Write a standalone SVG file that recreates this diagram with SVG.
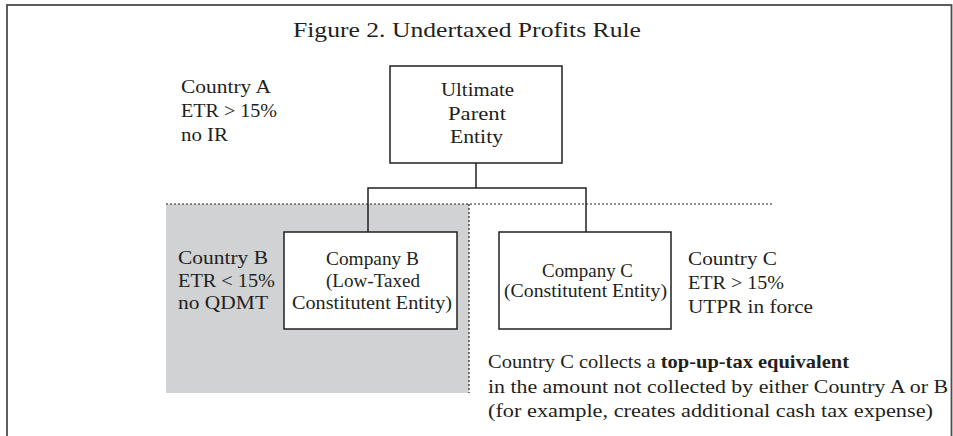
<svg xmlns="http://www.w3.org/2000/svg" width="953" height="436" viewBox="0 0 953 436">
<style>
text{font-family:"Liberation Serif","Times New Roman",serif;fill:#231f20;font-size:19px}
.t{font-size:22px}
.c{text-anchor:middle}
.box{fill:#fff;stroke:#231f20;stroke-width:1.5}
.ln{fill:none;stroke:#231f20;stroke-width:1.5}
.dot{fill:none;stroke:#231f20;stroke-width:1.2;stroke-dasharray:2 2}
</style>
<rect width="953" height="436" fill="#fff"/>
<rect x="7" y="5" width="944.5" height="440" fill="none" stroke="#4d4d4f" stroke-width="1.8"/>
<text class="t" x="293" y="37" textLength="348" lengthAdjust="spacingAndGlyphs">Figure 2. Undertaxed Profits Rule</text>
<g id="countryB-region">
<rect x="166" y="204" width="303" height="189" fill="#d1d2d4"/>
</g>
<g id="borders">
<line class="dot" x1="166" y1="204" x2="772" y2="204"/>
<line class="dot" x1="469" y1="204" x2="469" y2="393"/>
</g>
<g id="connectors">
<line class="ln" x1="476" y1="163" x2="476" y2="188"/>
<polyline class="ln" points="368,232 368,188 586,188 586,232"/>
</g>
<g id="upe">
<rect class="box" x="390" y="66" width="172" height="97"/>
<text x="441" y="96" textLength="73" lengthAdjust="spacingAndGlyphs">Ultimate</text>
<text x="448" y="120" textLength="58" lengthAdjust="spacingAndGlyphs">Parent</text>
<text x="450" y="143" textLength="53" lengthAdjust="spacingAndGlyphs">Entity</text>
</g>
<g id="companyB">
<rect class="box" x="284" y="232" width="173" height="97"/>
<text x="326" y="265" textLength="93" lengthAdjust="spacingAndGlyphs">Company B</text>
<text x="326" y="287" textLength="94" lengthAdjust="spacingAndGlyphs">(Low-Taxed</text>
<text x="292" y="309" textLength="160" lengthAdjust="spacingAndGlyphs">Constitutent Entity)</text>
</g>
<g id="companyC">
<rect class="box" x="499" y="232" width="172" height="97"/>
<text x="542" y="277" textLength="91" lengthAdjust="spacingAndGlyphs">Company C</text>
<text x="504" y="297" textLength="163" lengthAdjust="spacingAndGlyphs">(Constitutent Entity)</text>
</g>
<g id="countryA">
<text x="181" y="93" textLength="90" lengthAdjust="spacingAndGlyphs">Country A</text>
<text x="181" y="117" textLength="96" lengthAdjust="spacingAndGlyphs">ETR &gt; 15%</text>
<text x="181" y="141" textLength="47" lengthAdjust="spacingAndGlyphs">no IR</text>
</g>
<g id="countryB">
<text x="178" y="264" textLength="90" lengthAdjust="spacingAndGlyphs">Country B</text>
<text x="178" y="287" textLength="97" lengthAdjust="spacingAndGlyphs">ETR &lt; 15%</text>
<text x="178" y="309" textLength="90" lengthAdjust="spacingAndGlyphs">no QDMT</text>
</g>
<g id="countryC">
<text x="688" y="265" textLength="89" lengthAdjust="spacingAndGlyphs">Country C</text>
<text x="688" y="289" textLength="96" lengthAdjust="spacingAndGlyphs">ETR &gt; 15%</text>
<text x="688" y="313" textLength="125" lengthAdjust="spacingAndGlyphs">UTPR in force</text>
</g>
<g id="note">
<text x="488" y="368" textLength="361" lengthAdjust="spacingAndGlyphs">Country C collects a <tspan font-weight="bold">top-up-tax equivalent</tspan></text>
<text x="488" y="393" textLength="460" lengthAdjust="spacingAndGlyphs">in the amount not collected by either Country A or B</text>
<text x="488" y="417" textLength="445" lengthAdjust="spacingAndGlyphs">(for example, creates additional cash tax expense)</text>
</g>
</svg>
